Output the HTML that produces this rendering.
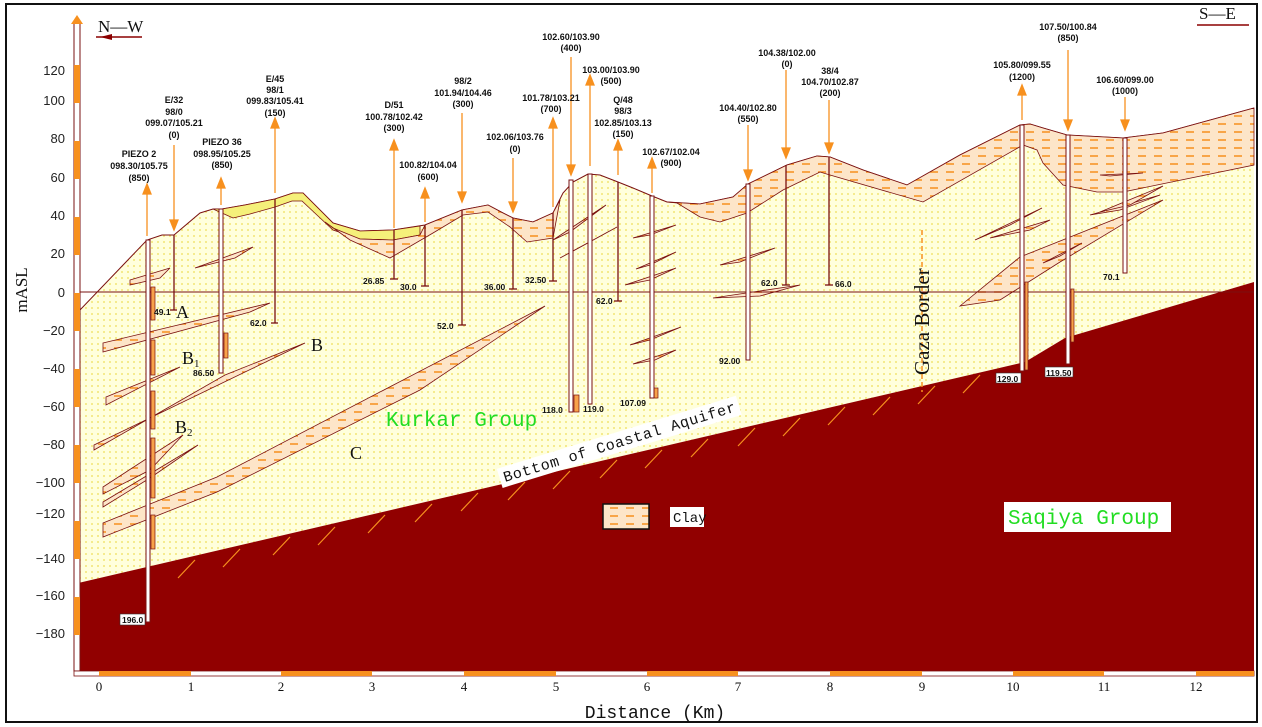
<!DOCTYPE html>
<html><head><meta charset="utf-8"><style>
html,body{margin:0;padding:0;background:#fff}
svg{display:block}
.t{font-family:"Liberation Sans",sans-serif;font-size:9px;font-weight:bold;fill:#111;text-anchor:middle}
.b{font-family:"Liberation Sans",sans-serif;font-size:8.5px;font-weight:bold;fill:#111}
.ax{font-family:"Liberation Serif",serif;font-size:15px;fill:#222}
.g{font-family:"Liberation Mono",monospace;fill:#22dd22}
</style></head><body>
<svg width="1262" height="727" viewBox="0 0 1262 727" xmlns="http://www.w3.org/2000/svg">
<defs>
<pattern id="dots" width="6" height="6" patternUnits="userSpaceOnUse">
<rect width="6" height="6" fill="#ffffdc"/><circle cx="2" cy="2" r="0.9" fill="#eedd55"/></pattern>
<pattern id="clay" width="16" height="8" patternUnits="userSpaceOnUse">
<rect width="16" height="8" fill="#fde5c8"/><line x1="2" y1="4" x2="10" y2="4" stroke="#f7901e" stroke-width="1.5"/></pattern>
</defs>
<rect x="6" y="4" width="1251" height="718" fill="#fff" stroke="#111" stroke-width="2"/>
<!-- kurkar -->
<polygon fill="url(#dots)" points="74,313 80,310 147,240 162,235 174,235 200,213 213,209 222,209 245,205 275,199 293,193 303,193 320,210 333,223 360,231 393,230 425,225 462,210 488,205 503,213 513,218 533,222 553,213 563,193 573,182 588,174 600,175 618,182 633,188 652,196 667,202 700,204 733,197 748,184 787,165 817,156 830,157 863,170 907,185 960,155 1020,125 1030,124 1043,128 1067,135 1123,138 1163,133 1254,108 1254,282 1065,338 1025,362 74,584"/>
<polyline fill="none" stroke="#7a1010" stroke-width="1" points="74,313 80,310 147,240 162,235 174,235 200,213 213,209 222,209 245,205 275,199 293,193 303,193 320,210 333,223 360,231 393,230 425,225 462,210 488,205 503,213 513,218 533,222 553,213 563,193 573,182 588,174 600,175 618,182 633,188 652,196 667,202 700,204 733,197 748,184 787,165 817,156 830,157 863,170 907,185 960,155 1020,125 1030,124 1043,128 1067,135 1123,138 1163,133 1254,108"/>
<polygon fill="#f5f07a" stroke="#7a1010" stroke-width="0.8" points="213,209 222,209 245,205 275,199 293,193 303,193 320,210 333,223 360,231 393,230 420,226 420,235 393,240 360,239 333,230 318,216 302,201 292,201 275,207 250,214 233,218"/>
<polygon fill="url(#clay)" stroke="#7a1010" stroke-width="0.8" points="325,222 333,228 360,239 393,240 420,235 425,225 462,210 488,205 503,213 513,218 533,222 553,213 560,200 553,238 527,242 510,227 488,212 463,215 433,233 390,258 350,240"/>
<polygon fill="url(#clay)" stroke="#7a1010" stroke-width="0.8" points="667,202 700,204 733,197 748,184 787,165 817,156 830,157 863,170 907,185 960,155 1020,125 1030,124 1043,128 1067,135 1123,138 1163,133 1254,108 1254,165 1123,192 1097,192 1063,185 1043,163 1037,150 1023,145 923,202 830,175 820,172 783,190 747,213 720,222 700,217 677,203"/>
<g fill="url(#clay)" stroke="#7a1010" stroke-width="0.8">
<polygon points="130,280 170,268 160,278 130,285"/>
<polygon points="195,268 253,247 235,258"/>
<polygon points="103,343 270,303 250,312 103,352"/>
<polygon points="106,397 180,367 106,405"/>
<polygon points="94,445 305,343 225,375 94,450"/>
<polygon points="103,487 183,435 150,470 103,494"/>
<polygon points="103,502 198,445 150,478 103,507"/>
<polygon points="103,523 217,477 545,306 420,390 217,492 103,537"/>
<polygon points="553,240 606,205 570,232"/>
<polygon points="560,258 617,227 575,250"/>
<polygon points="633,238 676,225 650,235"/>
<polygon points="636,269 676,252 650,265"/>
<polygon points="625,285 676,268 650,280"/>
<polygon points="630,345 681,327 650,340"/>
<polygon points="633,364 676,350 655,360"/>
<polygon points="720,265 775,248 740,262"/>
<polygon points="713,298 800,285 760,296"/>
<polygon points="960,306 1020,257 1163,200 1060,262 1000,300"/>
<polygon points="975,240 1042,208 1010,225"/>
<polygon points="990,238 1050,220 1030,230"/>
<polygon points="1043,263 1082,243 1060,256"/>
<polygon points="1090,215 1160,195 1120,210"/>
<polygon points="1100,212 1163,186 1130,205"/>
<polygon points="1100,175 1143,173 1110,176"/>
</g>
<polygon fill="#910000" points="74,584 1025,362 1065,338 1254,282 1254,671 74,671"/>
<g stroke="#f7901e" stroke-width="1.2">
<line x1="195" y1="560" x2="178" y2="578"/><line x1="240" y1="549" x2="223" y2="567"/><line x1="290" y1="537" x2="273" y2="555"/><line x1="335" y1="527" x2="318" y2="545"/><line x1="385" y1="515" x2="368" y2="533"/><line x1="432" y1="504" x2="415" y2="522"/><line x1="478" y1="493" x2="461" y2="511"/><line x1="525" y1="482" x2="508" y2="500"/><line x1="570" y1="471" x2="553" y2="489"/><line x1="617" y1="460" x2="600" y2="478"/><line x1="662" y1="450" x2="645" y2="468"/><line x1="708" y1="439" x2="691" y2="457"/><line x1="755" y1="428" x2="738" y2="446"/><line x1="800" y1="418" x2="783" y2="436"/><line x1="845" y1="407" x2="828" y2="425"/><line x1="890" y1="397" x2="873" y2="415"/><line x1="935" y1="386" x2="918" y2="404"/><line x1="980" y1="375" x2="963" y2="393"/>
</g>
<line x1="80" y1="292" x2="1254" y2="292" stroke="#7a1010" stroke-width="1"/>
<line x1="922" y1="230" x2="922" y2="392" stroke="#f7901e" stroke-width="1.5" stroke-dasharray="5,3"/>
<text x="0" y="0" transform="translate(929,375) rotate(-90)" style="font-family:'Liberation Serif',serif;font-size:21px;fill:#111">Gaza  Border</text>
<g fill="#f7a24a" stroke="#7a1010" stroke-width="0.7">
<rect x="151" y="287" width="4" height="33"/><rect x="151" y="340" width="4" height="35"/><rect x="151" y="391" width="4" height="38"/><rect x="151" y="438" width="4" height="60"/><rect x="151" y="515" width="4" height="34"/>
<rect x="224" y="333" width="4" height="25"/><rect x="574" y="395" width="5" height="17"/><rect x="654" y="388" width="4" height="10"/>
<rect x="1025" y="282" width="3" height="88"/><rect x="1071" y="289" width="3" height="53"/>
</g>
<g stroke="#7a1010" stroke-width="1" fill="#fff">
<rect x="146" y="240" width="4" height="382"/><rect x="219" y="209" width="4" height="164"/>
<rect x="569" y="180" width="4" height="232"/><rect x="588" y="174" width="4" height="230"/>
<rect x="650" y="196" width="4" height="202"/><rect x="746" y="184" width="4" height="176"/>
<rect x="1020" y="125" width="4" height="246"/><rect x="1066" y="135" width="4" height="229"/>
<rect x="1123" y="138" width="4" height="135"/>
</g>
<g stroke="#7a1010" stroke-width="1.3">
<line x1="174" y1="235" x2="174" y2="310"/><line x1="170" y1="310" x2="177" y2="310"/>
<line x1="275" y1="199" x2="275" y2="323"/><line x1="271" y1="323" x2="278" y2="323"/>
<line x1="394" y1="230" x2="394" y2="279"/><line x1="390" y1="279" x2="398" y2="279"/>
<line x1="425" y1="225" x2="425" y2="286"/><line x1="421" y1="286" x2="429" y2="286"/>
<line x1="462" y1="210" x2="462" y2="325"/><line x1="458" y1="325" x2="466" y2="325"/>
<line x1="513" y1="218" x2="513" y2="289"/><line x1="509" y1="289" x2="517" y2="289"/>
<line x1="553" y1="213" x2="553" y2="281"/><line x1="549" y1="281" x2="557" y2="281"/>
<line x1="618" y1="182" x2="618" y2="301"/><line x1="614" y1="301" x2="622" y2="301"/>
<line x1="786" y1="165" x2="786" y2="285"/><line x1="782" y1="285" x2="790" y2="285"/>
<line x1="829" y1="157" x2="829" y2="285"/><line x1="825" y1="285" x2="833" y2="285"/>
</g>
<g stroke="#f7901e" stroke-width="1.3" fill="#f7901e">
<line x1="147" y1="236" x2="147" y2="192"/><polygon points="143,194 147,184 151,194"/>
<line x1="174" y1="145" x2="174" y2="222"/><polygon points="170,220 174,230 178,220"/>
<line x1="221" y1="205" x2="221" y2="186"/><polygon points="217,188 221,178 225,188"/>
<line x1="275" y1="193" x2="275" y2="126"/><polygon points="271,128 275,118 279,128"/>
<line x1="394" y1="228" x2="394" y2="148"/><polygon points="390,150 394,140 398,150"/>
<line x1="425" y1="222" x2="425" y2="196"/><polygon points="421,198 425,188 429,198"/>
<line x1="462" y1="113" x2="462" y2="194"/><polygon points="458,192 462,202 466,192"/>
<line x1="513" y1="158" x2="513" y2="204"/><polygon points="509,202 513,212 517,202"/>
<line x1="553" y1="207" x2="553" y2="126"/><polygon points="549,128 553,118 557,128"/>
<line x1="571" y1="57" x2="571" y2="167"/><polygon points="567,165 571,175 575,165"/>
<line x1="590" y1="166" x2="590" y2="83"/><polygon points="586,85 590,75 594,85"/>
<line x1="618" y1="175" x2="618" y2="148"/><polygon points="614,150 618,140 622,150"/>
<line x1="652" y1="193" x2="652" y2="166"/><polygon points="648,168 652,158 656,168"/>
<line x1="748" y1="125" x2="748" y2="172"/><polygon points="744,170 748,180 752,170"/>
<line x1="786" y1="70" x2="786" y2="150"/><polygon points="782,148 786,158 790,148"/>
<line x1="829" y1="100" x2="829" y2="145"/><polygon points="825,143 829,153 833,143"/>
<line x1="1022" y1="120" x2="1022" y2="93"/><polygon points="1018,95 1022,85 1026,95"/>
<line x1="1068" y1="50" x2="1068" y2="122"/><polygon points="1064,120 1068,130 1072,120"/>
<line x1="1125" y1="97" x2="1125" y2="122"/><polygon points="1121,120 1125,130 1129,120"/>
</g>
<g class="t">
<text x="139" y="157">PIEZO 2</text><text x="139" y="169">098.30/105.75</text><text x="139" y="181">(850)</text>
<text x="174" y="103">E/32</text><text x="174" y="115">98/0</text><text x="174" y="126">099.07/105.21</text><text x="174" y="138">(0)</text>
<text x="222" y="145">PIEZO 36</text><text x="222" y="157">098.95/105.25</text><text x="222" y="168">(850)</text>
<text x="275" y="82">E/45</text><text x="275" y="93">98/1</text><text x="275" y="104">099.83/105.41</text><text x="275" y="116">(150)</text>
<text x="394" y="108">D/51</text><text x="394" y="120">100.78/102.42</text><text x="394" y="131">(300)</text>
<text x="428" y="168">100.82/104.04</text><text x="428" y="180">(600)</text>
<text x="463" y="84">98/2</text><text x="463" y="96">101.94/104.46</text><text x="463" y="107">(300)</text>
<text x="515" y="140">102.06/103.76</text><text x="515" y="152">(0)</text>
<text x="551" y="101">101.78/103.21</text><text x="551" y="112">(700)</text>
<text x="571" y="40">102.60/103.90</text><text x="571" y="51">(400)</text>
<text x="611" y="73">103.00/103.90</text><text x="611" y="84">(500)</text>
<text x="623" y="103">Q/48</text><text x="623" y="114">98/3</text><text x="623" y="126">102.85/103.13</text><text x="623" y="137">(150)</text>
<text x="671" y="155">102.67/102.04</text><text x="671" y="166">(900)</text>
<text x="748" y="111">104.40/102.80</text><text x="748" y="122">(550)</text>
<text x="787" y="56">104.38/102.00</text><text x="787" y="67">(0)</text>
<text x="830" y="74">38/4</text><text x="830" y="85">104.70/102.87</text><text x="830" y="96">(200)</text>
<text x="1022" y="68">105.80/099.55</text><text x="1022" y="80">(1200)</text>
<text x="1068" y="30">107.50/100.84</text><text x="1068" y="41">(850)</text>
<text x="1125" y="83">106.60/099.00</text><text x="1125" y="94">(1000)</text>
</g>
<g class="b">
<rect x="120" y="614" width="25" height="11" fill="#fff" stroke="#333" stroke-width="0.6"/><text x="122" y="623">196.0</text>
<text x="154" y="315">49.1</text><text x="193" y="376">86.50</text><text x="250" y="326">62.0</text>
<text x="363" y="284">26.85</text><text x="400" y="290">30.0</text><text x="437" y="329">52.0</text>
<text x="484" y="290">36.00</text><text x="525" y="283">32.50</text><text x="542" y="413">118.0</text>
<text x="583" y="412">119.0</text><text x="596" y="304">62.0</text><text x="620" y="406">107.09</text>
<text x="719" y="364">92.00</text><text x="761" y="286">62.0</text><text x="835" y="287">66.0</text>
<rect x="996" y="373" width="25" height="10" fill="#fff" stroke="#333" stroke-width="0.6"/><text x="997" y="382">129.0</text>
<rect x="1045" y="367" width="28" height="10" fill="#fff" stroke="#333" stroke-width="0.6"/><text x="1046" y="376">119.50</text>
<text x="1103" y="280">70.1</text>
</g>
<g style="font-family:'Liberation Serif',serif;font-size:18px;fill:#111">
<text x="176" y="318">A</text><text x="182" y="364">B<tspan font-size="11" dy="3">1</tspan></text><text x="311" y="351">B</text>
<text x="175" y="433">B<tspan font-size="11" dy="3">2</tspan></text><text x="350" y="459">C</text>
</g>
<text class="g" x="386" y="426" style="font-size:21px">Kurkar Group</text>
<g transform="translate(505,482) rotate(-17)">
<rect x="-4" y="-15" width="250" height="20" fill="#fff"/>
<text x="0" y="0" textLength="242" style="font-family:'Liberation Mono',monospace;font-size:15px;fill:#111">Bottom of Coastal Aquifer</text>
</g>
<rect x="603" y="504" width="46" height="25" fill="url(#clay)" stroke="#111" stroke-width="1.5"/>
<rect x="670" y="507" width="34" height="20" fill="#fff"/>
<text x="673" y="522" style="font-family:'Liberation Mono',monospace;font-size:14px;fill:#111">Clay</text>
<rect x="1004" y="502" width="167" height="30" fill="#fff"/>
<text class="g" x="1008" y="524" style="font-size:21px">Saqiya Group</text>
<rect x="74" y="22" width="6" height="649" fill="#fff" stroke="#7a1010" stroke-width="1"/>
<polygon points="71,24 77,15 83,24" fill="#f7901e"/>
<g fill="#f7901e">
<rect x="74" y="65" width="6" height="38"/><rect x="74" y="141" width="6" height="38"/><rect x="74" y="217" width="6" height="38"/><rect x="74" y="293" width="6" height="38"/><rect x="74" y="369" width="6" height="38"/><rect x="74" y="445" width="6" height="38"/><rect x="74" y="521" width="6" height="38"/><rect x="74" y="597" width="6" height="38"/>
</g>
<g class="ax" text-anchor="end" style="font-family:'Liberation Sans',sans-serif;font-size:13px">
<text x="65" y="75">120</text><text x="65" y="105">100</text><text x="65" y="143">80</text><text x="65" y="182">60</text><text x="65" y="220">40</text><text x="65" y="258">20</text><text x="65" y="297">0</text><text x="65" y="335">−20</text><text x="65" y="373">−40</text><text x="65" y="411">−60</text><text x="65" y="449">−80</text><text x="65" y="487">−100</text><text x="65" y="518">−120</text><text x="65" y="563">−140</text><text x="65" y="600">−160</text><text x="65" y="638">−180</text>
</g>
<text transform="translate(27,290) rotate(-90)" text-anchor="middle" style="font-family:'Liberation Serif',serif;font-size:17px;fill:#111">mASL</text>
<rect x="74" y="671" width="1180" height="5" fill="#fff" stroke="#7a1010" stroke-width="0.8"/>
<g fill="#f7901e">
<rect x="99" y="671" width="92" height="5"/><rect x="281" y="671" width="91" height="5"/><rect x="464" y="671" width="92" height="5"/><rect x="647" y="671" width="91" height="5"/><rect x="830" y="671" width="92" height="5"/><rect x="1013" y="671" width="91" height="5"/><rect x="1196" y="671" width="58" height="5"/>
</g>
<g text-anchor="middle" style="font-family:'Liberation Serif',serif;font-size:13px;fill:#111">
<text x="99" y="691">0</text><text x="191" y="691">1</text><text x="281" y="691">2</text><text x="372" y="691">3</text><text x="464" y="691">4</text><text x="556" y="691">5</text><text x="647" y="691">6</text><text x="738" y="691">7</text><text x="830" y="691">8</text><text x="922" y="691">9</text><text x="1013" y="691">10</text><text x="1104" y="691">11</text><text x="1196" y="691">12</text>
</g>
<text x="655" y="718" text-anchor="middle" style="font-family:'Liberation Mono',monospace;font-size:18px;fill:#111">Distance (Km)</text>
<text x="98" y="32" style="font-family:'Liberation Serif',serif;font-size:17px;fill:#111">N—W</text>
<line x1="96" y1="37" x2="142" y2="37" stroke="#8b0000" stroke-width="1.5"/><polygon points="100,37 112,34 112,40" fill="#8b0000"/>
<text x="1199" y="19" style="font-family:'Liberation Serif',serif;font-size:17px;fill:#111">S—E</text>
<line x1="1197" y1="25" x2="1249" y2="25" stroke="#8b0000" stroke-width="1.5"/>
</svg>
</body></html>
